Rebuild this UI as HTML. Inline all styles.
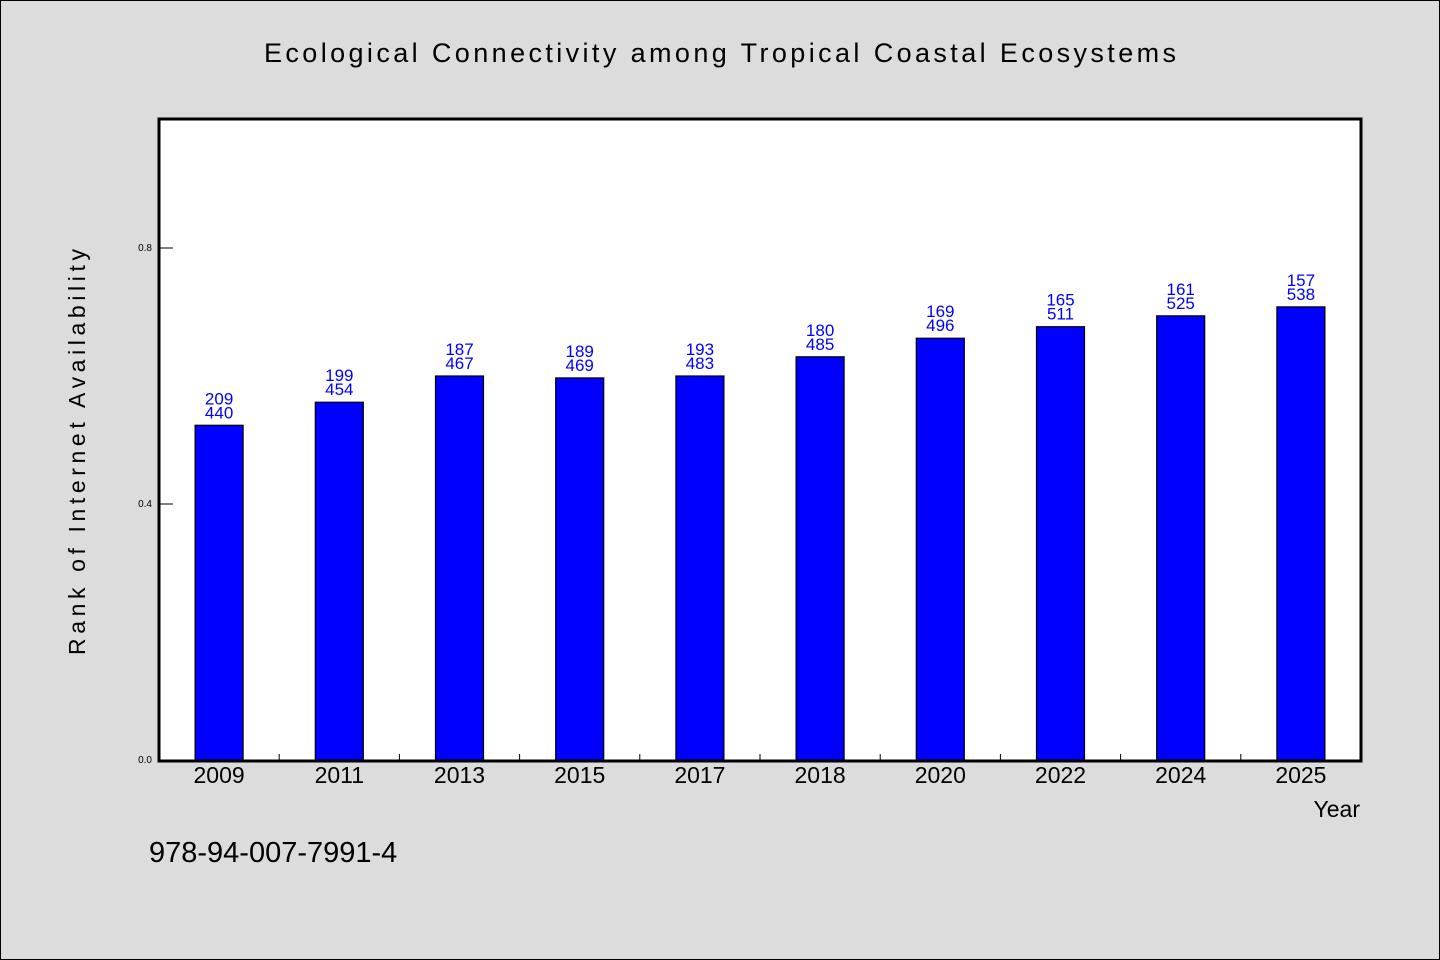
<!DOCTYPE html>
<html><head><meta charset="utf-8"><style>
body{margin:0;background:#dcdcdc}
svg{display:block;font-family:"WenQuanYi Zen Hei","Liberation Sans",sans-serif}
</style></head><body>
<svg id="chart" width="1440" height="960" viewBox="0 0 1440 960">
<rect x="0.5" y="0.5" width="1439" height="959" fill="#dcdcdc" stroke="#000"/>
<text x="720" y="62" font-size="27" text-anchor="middle" textLength="912" lengthAdjust="spacing">Ecological Connectivity among Tropical Coastal Ecosystems</text>
<rect x="159" y="119" width="1202" height="642" fill="#fff"/>
<g id="bars"></g>
<rect x="159" y="119" width="1202" height="642" fill="none" stroke="#000" stroke-width="3"/>
<g id="axes"></g>
<text transform="translate(85,452) rotate(-90)" font-size="23" text-anchor="middle" textLength="406" lengthAdjust="spacing">Rank of Internet Availability</text>
<text x="1360" y="817" font-size="23" text-anchor="end">Year</text>
<text x="149" y="862" font-size="29">978-94-007-7991-4</text>
</svg>
<script>
const categories=["2009","2011","2013","2015","2017","2018","2020","2022","2024","2025"];
const values=[0.523,0.559,0.6,0.597,0.6,0.63,0.659,0.677,0.694,0.708];
const ranks=[209,199,187,189,193,180,169,165,161,157];
const counts=[440,454,467,469,483,485,496,511,525,538];
const yTicks=[0,0.4,0.8];
const yTickLabels=["0.0","0.4","0.8"];
const NS="http://www.w3.org/2000/svg";
const x0=159,x1=1361,yB=760,yT=120,yMax=1.0;
const band=(x1-x0)/categories.length;
const xs=i=>x0+band*(i+0.5);
const ys=v=>yB-(v/yMax)*(yB-yT);
function mk(t,a,p){const e=document.createElementNS(NS,t);for(const k in a)e.setAttribute(k,a[k]);p.appendChild(e);return e;}
const bars=document.getElementById('bars'),axes=document.getElementById('axes');
categories.forEach((c,i)=>{
  const cx=xs(i),y=ys(values[i]);
  const r=mk('rect',{x:cx-24,y:y,width:48,height:yB-y,fill:'#0000ff',stroke:'#000','stroke-width':1.2},bars);
  
  
  const t1=mk('text',{x:cx,y:y-21,'font-size':17,'text-anchor':'middle',fill:'#0000ff'},bars);
  t1.textContent=ranks[i];
  
  
  const t2=mk('text',{x:cx,y:y-7,'font-size':17,'text-anchor':'middle',fill:'#0000ff'},bars);
  t2.textContent=counts[i];
  
  
  const xl=mk('text',{x:cx,y:783,'font-size':23,'text-anchor':'middle'},axes);
  xl.textContent=c;
  
  
  if(i>0){const tk=mk('line',{x1:x0+band*i,x2:x0+band*i,y1:yB,y2:yB-6,stroke:'#000'},axes);
  
  }
});
yTicks.forEach((v,i)=>{
  const y=ys(v);
  const tk=mk('line',{x1:x0,x2:x0+14,y1:y,y2:y,stroke:'#000'},axes);
  
  
  const tl=mk('text',{x:152,y:y+3,'font-size':10,'text-anchor':'end'},axes);
  tl.textContent=yTickLabels[i];
  
  
});
</script>
</body></html>
